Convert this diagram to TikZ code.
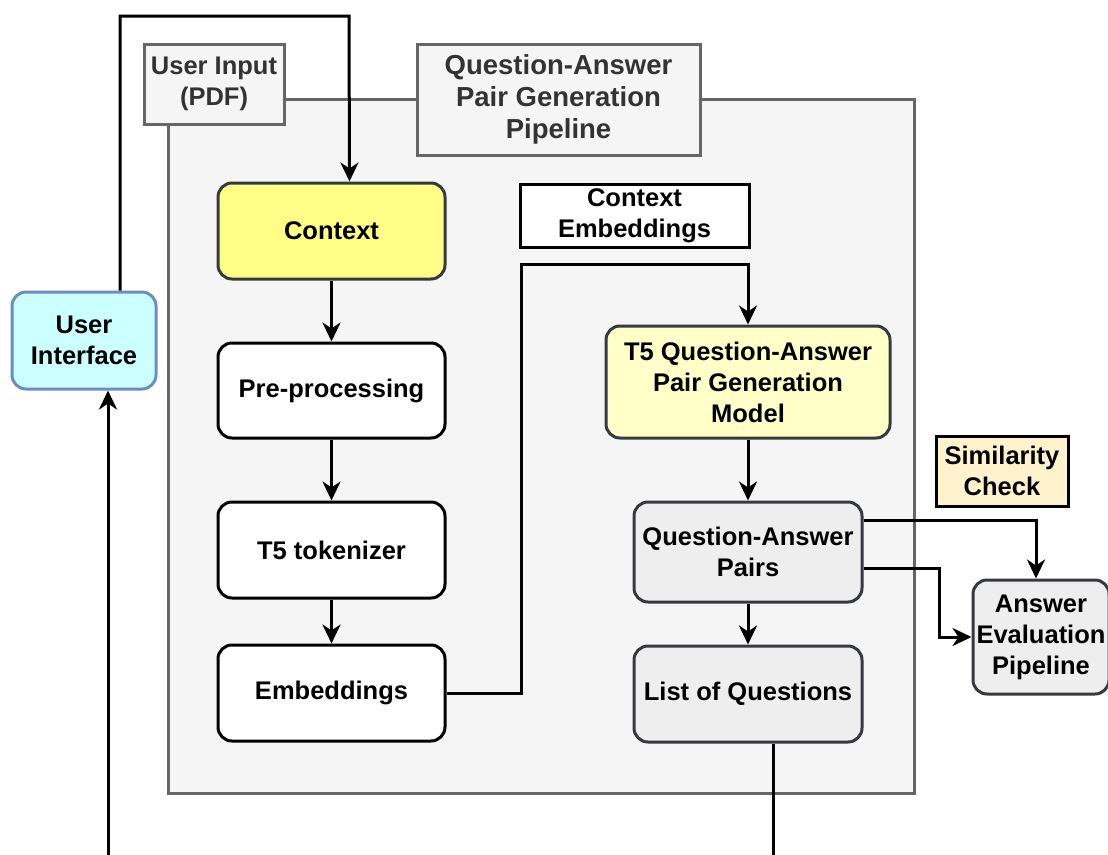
\documentclass[tikz,border=0pt]{standalone}
\usepackage{fontspec}
\setmainfont{Liberation Sans}
\usetikzlibrary{arrows.meta}

\definecolor{panelfill}{HTML}{F5F5F5}
\definecolor{panelline}{HTML}{666666}
\definecolor{labeltext}{HTML}{333333}
\definecolor{darkline}{HTML}{36393D}
\definecolor{ctxyellow}{HTML}{FFFF88}
\definecolor{modelyellow}{HTML}{FFFFC8}
\definecolor{pairgray}{HTML}{EEEEEE}
\definecolor{simfill}{HTML}{FFF2CC}
\definecolor{uifill}{HTML}{CCFFFF}
\definecolor{uiline}{HTML}{6C8EBF}

\tikzset{
  txt/.style={align=center, inner sep=0pt, font=\fontsize{25.5}{31}\selectfont\bfseries},
  stepbox/.style={txt, draw, line width=3pt, rounded corners=14pt, fill=white},
  darkbox/.style={stepbox, draw=darkline},
  tag/.style={txt, draw, line width=3pt, fill=white},
  panel/.style={txt, draw=panelline, fill=panelfill, line width=3pt, text=labeltext},
  wire/.style={line width=3pt, -{Stealth[length=19pt,width=18pt,inset=6pt]}},
  plain/.style={line width=3pt}
}

\begin{document}
\begin{tikzpicture}[x=1pt, y=-1pt]
  \useasboundingbox (0,0) rectangle (1108,854);

  % pipeline container and its labels
  \node[panel, minimum width=746pt, minimum height=694pt] (pipe) at (541,446) {};
  \node[panel, minimum width=140pt, minimum height=80pt] (upload) at (214,84) {User Input\\(PDF)};
  \node[panel, minimum width=283pt, minimum height=111pt,
        font=\fontsize{27.5}{32}\selectfont\bfseries] (title) at (558.5,99.5)
        {Question-Answer\\Pair Generation\\Pipeline};

  % left column
  \node[darkbox, fill=ctxyellow, minimum width=227pt, minimum height=96pt] (ctx) at (331.5,231) {Context};
  \node[stepbox, minimum width=227pt, minimum height=95pt] (prep) at (331.5,390.5) {Pre-processing};
  \node[stepbox, minimum width=227pt, minimum height=96pt] (tok) at (331.5,550) {T5 tokenizer};
  \node[stepbox, minimum width=227pt, minimum height=96pt] (emb) at (331.5,693) {Embeddings};

  % right column
  \node[tag, minimum width=229pt, minimum height=63pt] (cemb) at (634.5,215.5) {Context\\Embeddings};
  \node[darkbox, fill=modelyellow, minimum width=284pt, minimum height=112pt] (model) at (748,382)
        {T5 Question-Answer\\Pair Generation\\Model};
  \node[darkbox, fill=pairgray, minimum width=228pt, minimum height=100pt] (pairs) at (748,552)
        {Question-Answer\\Pairs};
  \node[darkbox, fill=pairgray, minimum width=228pt, minimum height=96pt] (qlist) at (748,694)
        {List of Questions};

  % outside the pipeline
  \node[tag, fill=simfill, minimum width=132pt, minimum height=70pt] (sim) at (1002,471) {Similarity\\Check};
  \node[darkbox, fill=pairgray, minimum width=136pt, minimum height=114pt] (ans) at (1041,637)
        {Answer\\Evaluation\\Pipeline};
  \node[stepbox, draw=uiline, fill=uifill, minimum width=144pt, minimum height=97pt] (ui) at (84,340.5)
        {User\\Interface};

  \coordinate (topbend) at (349,16);
  \coordinate (embbend) at (521,264);
  \coordinate (uifeed) at (108,860);
  \coordinate (qexit) at (773,860);

  \draw[wire] ([xshift=36pt]ui.north) |- (topbend) -- ([xshift=18pt]ctx.north);
  \draw[wire] (uifeed) -- (uifeed |- ui.south);
  \draw[wire] (ctx) -- (prep);
  \draw[wire] (prep) -- (tok);
  \draw[wire] (tok) -- (emb);
  \draw[wire] (emb.east) -| (embbend) -| (model.north);
  \draw[wire] (model) -- (pairs);
  \draw[wire] (pairs) -- (qlist);
  \draw[wire] ([yshift=32pt]pairs.east) -| ([xshift=-5pt]ans.north);
  \draw[wire] ([yshift=-16pt]pairs.east) -- ++(76pt,0) |- (ans.west);
  \draw[plain] ([xshift=25pt]qlist.south) -- (qexit);
\end{tikzpicture}
\end{document}
